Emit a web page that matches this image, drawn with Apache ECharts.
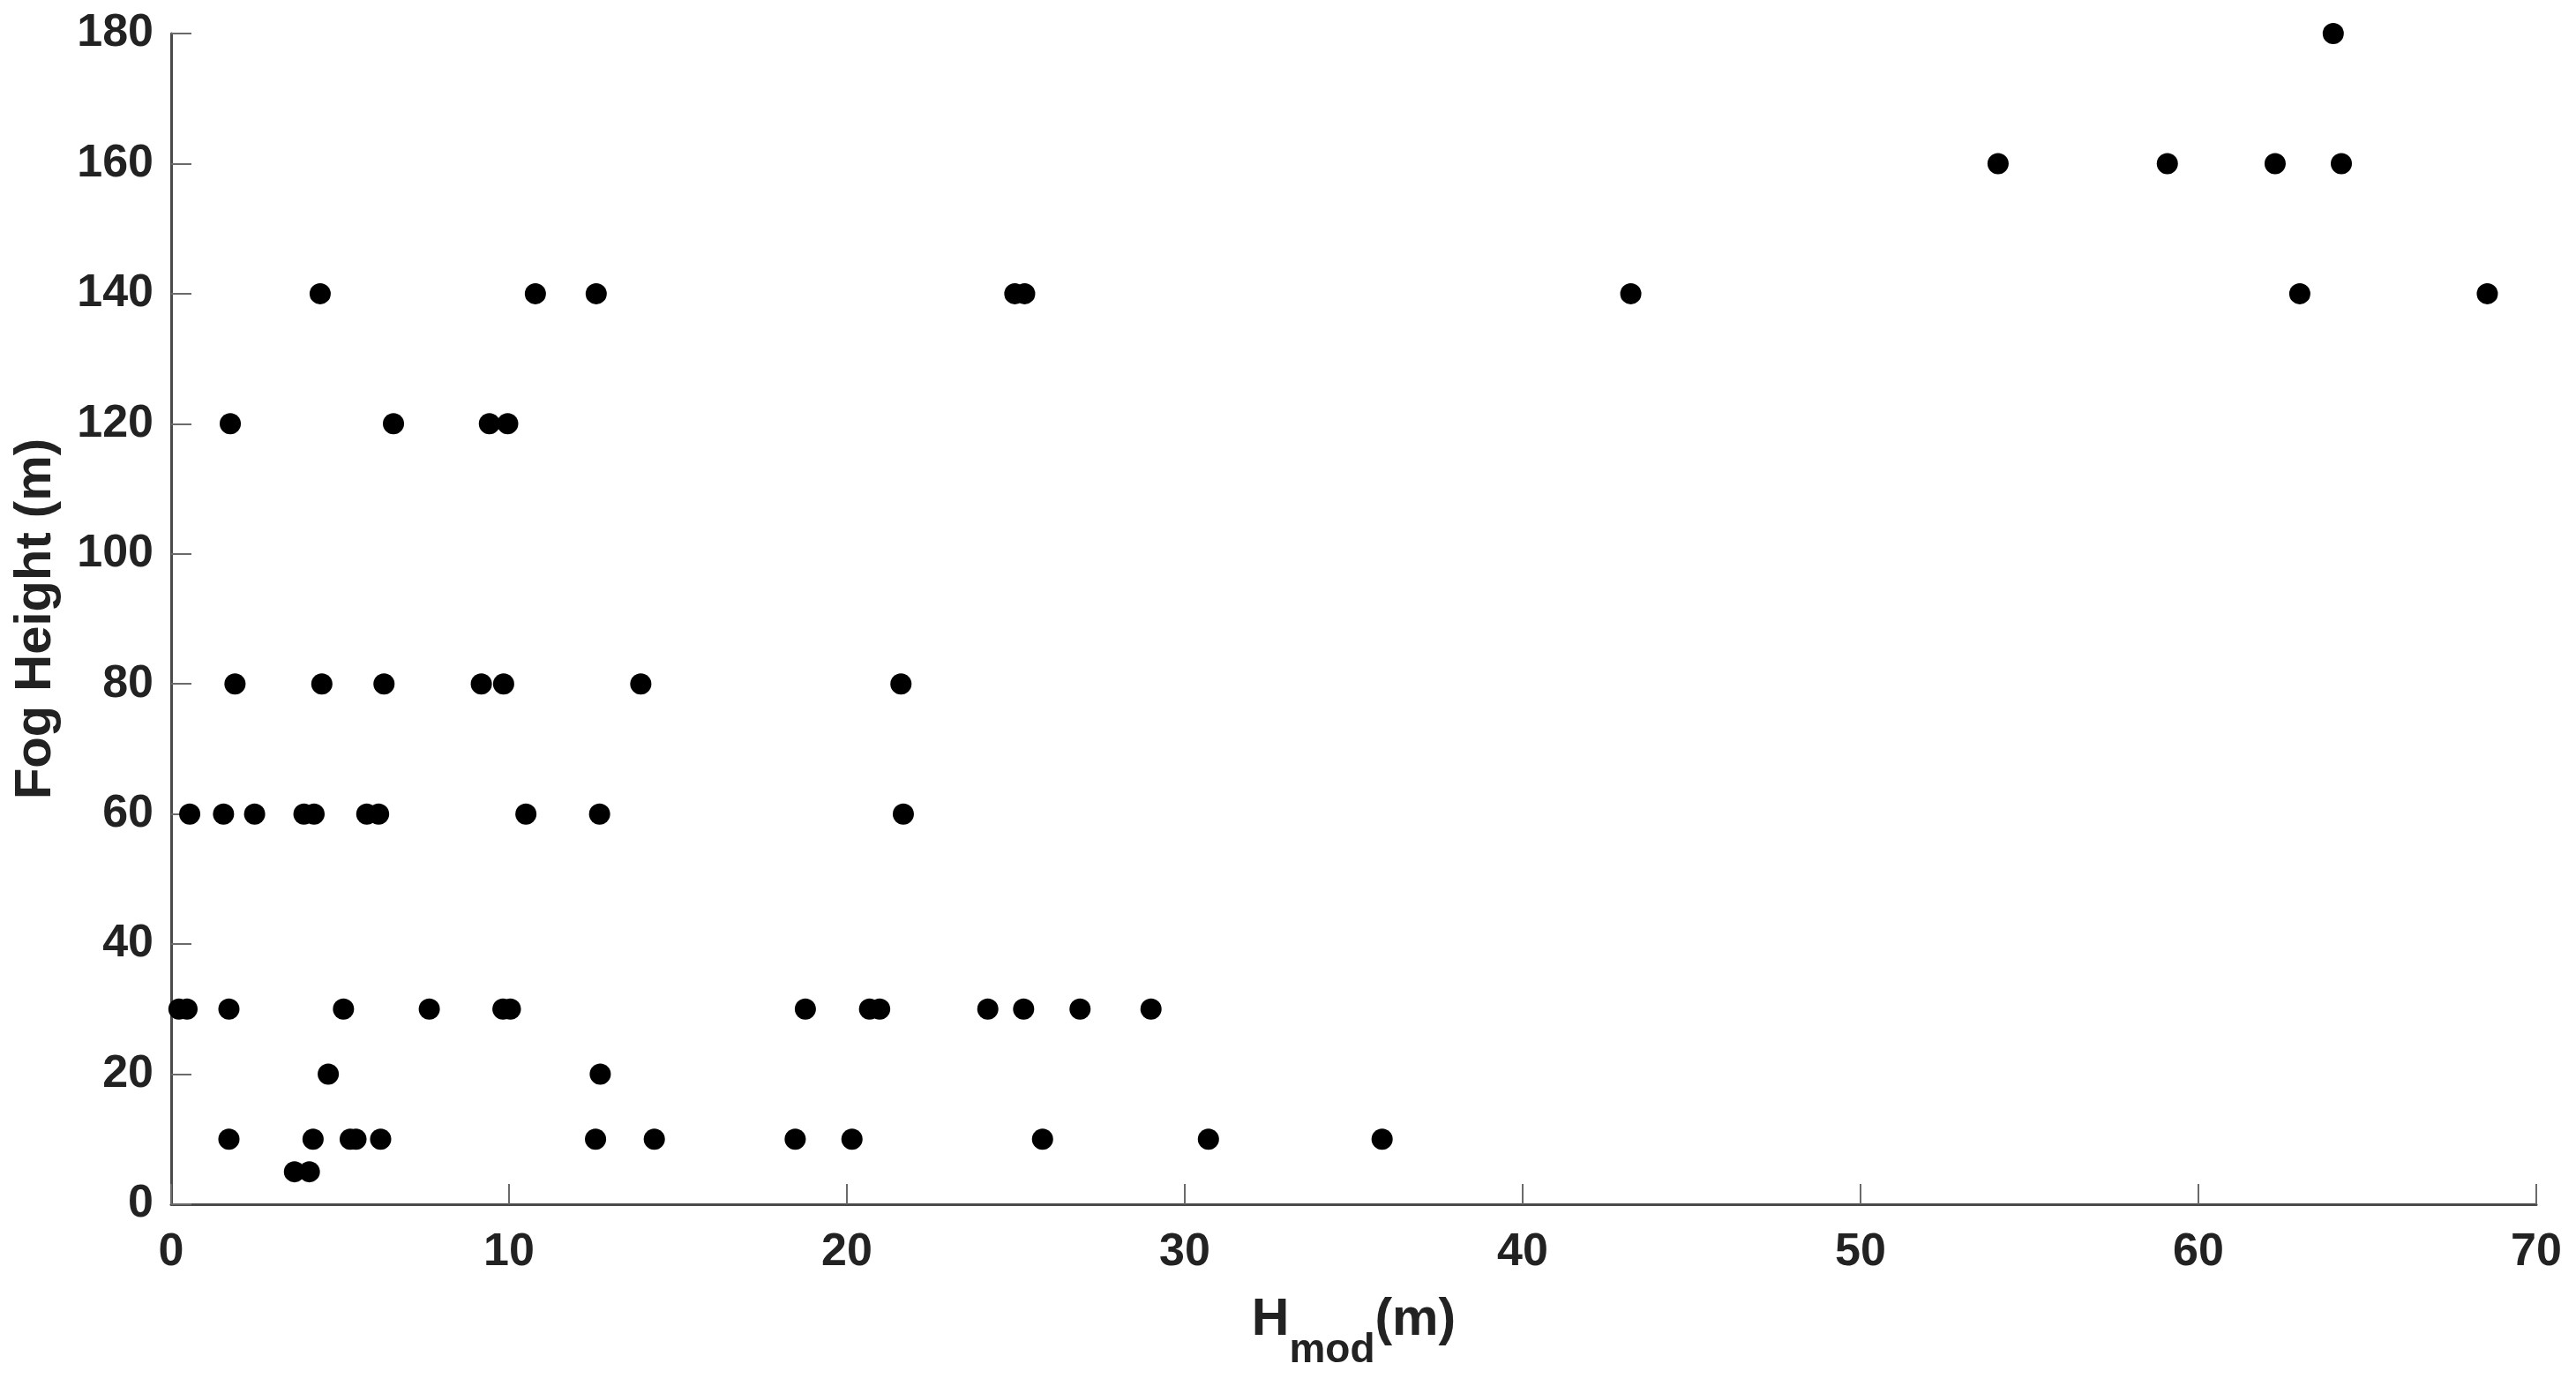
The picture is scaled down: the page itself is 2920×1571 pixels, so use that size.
<!DOCTYPE html>
<html>
<head>
<meta charset="utf-8">
<script src="https://cdn.jsdelivr.net/npm/echarts@6/dist/echarts.min.js"></script>
<style>
html,body{margin:0;padding:0;background:#fff;}
#chart{width:2920px;height:1571px;}
</style>
</head>
<body>
<div id="chart"></div>
<script>
// Fog height levels (m) and model heights H_mod (m) read at each level
const fogLevels = [180, 160, 140, 120, 80, 60, 30, 20, 10, 5];
const hmod180 = [63.99];
const hmod160 = [54.07, 59.08, 62.27, 64.23];
const hmod140 = [4.41, 10.78, 12.58, 24.97, 25.26, 43.2, 63.0, 68.55];
const hmod120 = [1.75, 6.58, 9.42, 9.96];
const hmod80 = [1.89, 4.46, 6.3, 9.18, 9.84, 13.9, 21.6];
const hmod60 = [0.55, 1.55, 2.47, 3.93, 4.23, 5.79, 6.14, 10.5, 12.68, 21.67];
const hmod30 = [0.23, 0.47, 1.71, 5.1, 7.64, 9.82, 10.04, 18.77, 20.67, 20.97, 24.17, 25.23, 26.9, 29.0];
const hmod20 = [4.65, 12.7];
const hmod10 = [1.71, 4.2, 5.3, 5.47, 6.2, 12.56, 14.3, 18.47, 20.15, 25.79, 30.7, 35.84];
const hmod5 = [3.65, 4.09];
const xTicks = [0, 10, 20, 30, 40, 50, 60, 70];
const yTicks = [0, 20, 40, 60, 80, 100, 120, 140, 160, 180];

const groups = [hmod180, hmod160, hmod140, hmod120, hmod80, hmod60, hmod30, hmod20, hmod10, hmod5];
const points = [];
groups.forEach((xs, i) => xs.forEach(x => points.push([x, fogLevels[i]])));

const font = '"Liberation Sans", Arial, Helvetica, sans-serif';
const chart = echarts.init(document.getElementById('chart'));
chart.setOption({
  backgroundColor: '#ffffff',
  animation: false,
  grid: {left: 194, right: 45, top: 38, bottom: 206},
  xAxis: {
    type: 'value',
    min: xTicks[0], max: xTicks[xTicks.length - 1], interval: 10,
    splitLine: {show: false},
    axisLine: {show: true, lineStyle: {color: '#4a4a4a', width: 3}},
    axisTick: {show: true, inside: true, length: 23, lineStyle: {color: '#6a6a6a', width: 2}},
    axisLabel: {fontFamily: font, fontWeight: 'bold', fontSize: 52, color: '#222222', margin: 29},
    name: '{h|H}{s|mod}{h|(m)}',
    nameLocation: 'middle',
    nameGap: 102,
    nameTextStyle: {
      fontFamily: font,
      rich: {
        h: {fontFamily: font, fontWeight: 'bold', fontSize: 59, lineHeight: 59, color: '#222222', verticalAlign: 'top'},
        s: {fontFamily: font, fontWeight: 'bold', fontSize: 46, lineHeight: 46, color: '#222222', verticalAlign: 'top', padding: [41, 0, 0, 0]}
      }
    }
  },
  yAxis: {
    type: 'value',
    min: yTicks[0], max: yTicks[yTicks.length - 1], interval: 20,
    splitLine: {show: false},
    axisLine: {show: true, lineStyle: {color: '#4a4a4a', width: 3}},
    axisTick: {show: true, inside: true, length: 23, lineStyle: {color: '#6a6a6a', width: 2}},
    axisLabel: {fontFamily: font, fontWeight: 'bold', fontSize: 52, color: '#222222', margin: 20},
    name: 'Fog Height (m)',
    nameLocation: 'middle',
    nameGap: 124,
    nameTextStyle: {fontFamily: font, fontWeight: 'bold', fontSize: 58, color: '#222222'}
  },
  series: [{
    type: 'scatter',
    data: points,
    symbol: 'circle',
    symbolSize: 24,
    itemStyle: {color: '#000000', opacity: 1}
  }]
});
</script>
</body>
</html>
